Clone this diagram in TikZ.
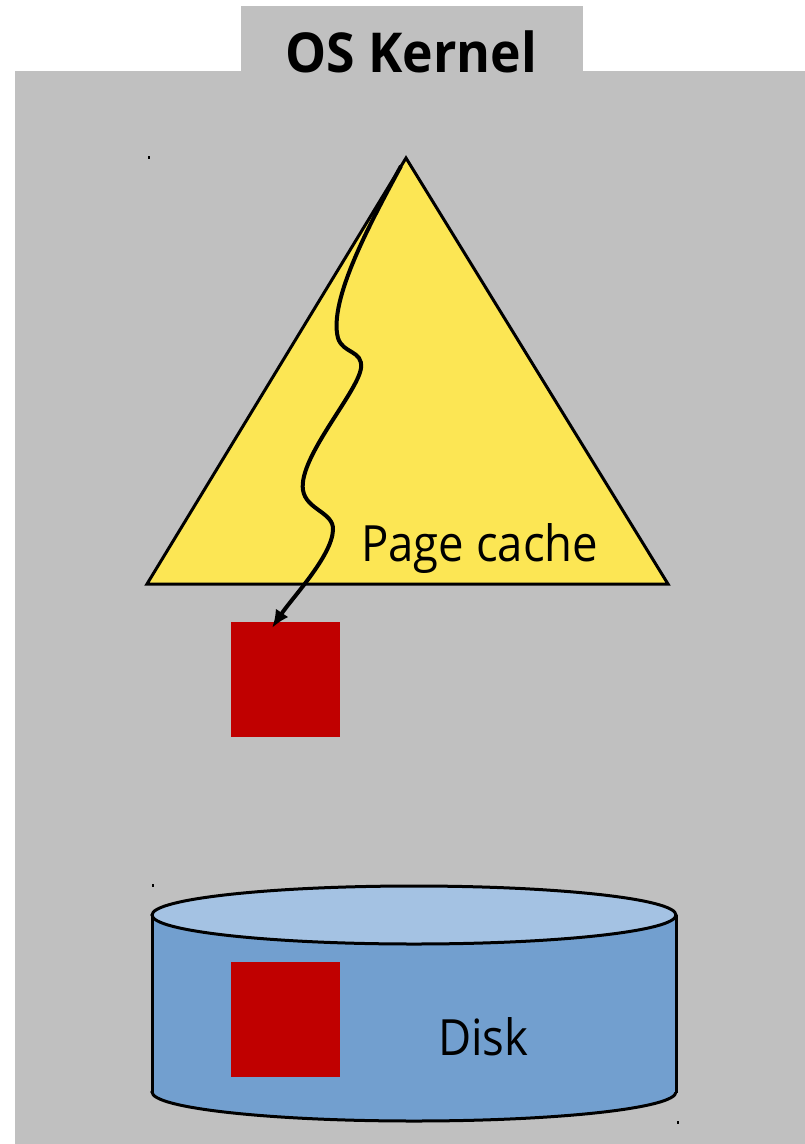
\documentclass[tikz,border=0pt]{standalone}
\usepackage{fontspec}
\setmainfont{Open Sans}
\newfontfamily\labelfont[FakeStretch=0.91]{Open Sans}
\newfontfamily\titlefont[FakeStretch=0.94]{Open Sans}
\usetikzlibrary{arrows.meta}
\definecolor{kgray}{RGB}{192,192,192}
\definecolor{cacheyellow}{RGB}{252,230,84}
\definecolor{blockred}{RGB}{192,0,0}
\definecolor{diskside}{RGB}{114,159,207}
\definecolor{disktop}{RGB}{164,194,227}
\tikzset{
  kernelbg/.style={fill=kgray, draw=none},
  cachetri/.style={fill=cacheyellow, draw=black, line width=3pt, line join=miter},
  block/.style={fill=blockred, draw=none, minimum width=109pt, minimum height=115pt, inner sep=0pt, anchor=north west},
  disksurf/.style={fill=diskside, draw=black, line width=3pt},
  disktopsurf/.style={fill=disktop, draw=black, line width=3pt},
  outline/.style={draw=black, line width=3pt},
  lookup/.style={draw=black, line width=4pt, -{Latex[length=18pt,width=15pt]}},
  label/.style={font=\labelfont\fontsize{50}{60}\selectfont, inner sep=0pt, anchor=base west},
  speck/.style={fill=black, draw=none}
}
\begin{document}
\begin{tikzpicture}[x=1pt, y=-1pt]
  % canvas
  \fill[white] (0,0) rectangle (805,1144);
  \useasboundingbox (0,0) rectangle (805,1144);
  % kernel background with tab
  \fill[kernelbg] (15,71) rectangle (805,1144);
  \fill[kernelbg] (241,6) rectangle (583,72);
  \node[font=\titlefont\fontsize{55}{66}\selectfont\bfseries, inner sep=0pt, anchor=base] (title) at (411,72) {OS Kernel};
  % page cache triangle
  \draw[cachetri] (406,158) -- (668,584) -- (147,584) -- cycle;
  \coordinate (apex) at (401,166);
  \node[label] (pc) at (361,561) {Page cache};
  % cached block
  \node[block] (cblock) at (231,622) {};
  % lookup path
  \coordinate (tip) at (272,628);
  \draw[lookup] (apex) .. controls (372,220) and (328,300) .. (338,338)
     .. controls (343,354) and (363,350) .. (361,368)
     .. controls (358,392) and (298,458) .. (303,490)
     .. controls (306,510) and (334,512) .. (333,530)
     .. controls (332,556) and (292,598) .. (tip);
  % disk cylinder
  \draw[disksurf] (414,1092) ellipse [x radius=262, y radius=29];
  \fill[diskside] (152,915) rectangle (676,1092);
  \draw[outline] (152,915) -- (152,1093);
  \draw[outline] (676,915) -- (676,1093);
  \draw[disktopsurf] (414,915) ellipse [x radius=262, y radius=29];
  \node[block] (dblock) at (231,962) {};
  \node[label] (disk) at (438,1055) {Disk};
  % tiny specks
  \fill[speck] (148,156) rectangle (149.5,159);
  \fill[speck] (152,884) rectangle (153.5,887);
  \fill[speck] (677,1121) rectangle (678.5,1124);
\end{tikzpicture}
\end{document}
